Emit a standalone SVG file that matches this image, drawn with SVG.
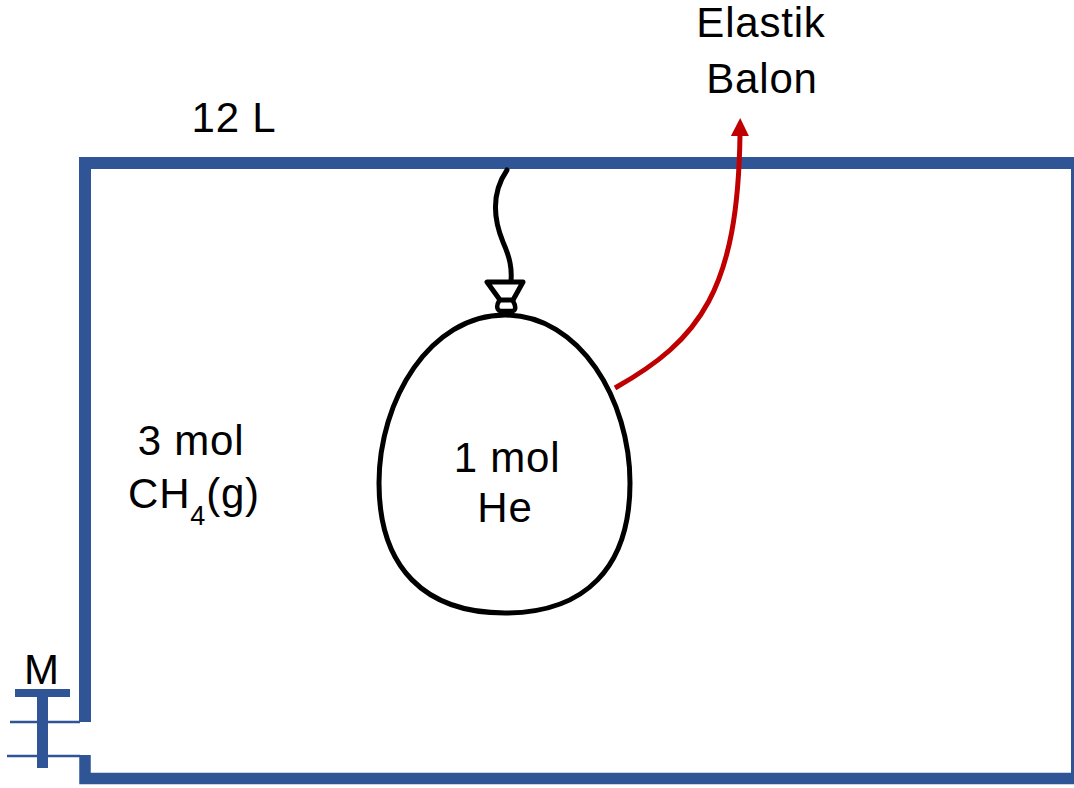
<svg xmlns="http://www.w3.org/2000/svg" width="1074" height="788" viewBox="0 0 1074 788">
  <style>
    .wall { fill: none; stroke: #2F5597; stroke-width: 12; stroke-linejoin: miter; stroke-linecap: butt; }
    .pipe { fill: none; stroke: #2F5597; stroke-width: 2.4; }
    .ink { fill: none; stroke: #000; stroke-linecap: round; stroke-linejoin: round; }
    .lbl { font-family: "Liberation Sans", Arial, sans-serif; font-size: 42px; letter-spacing: 0.8px; fill: #000; text-anchor: middle; }
  </style>
  <defs>
    <marker id="redHead" markerUnits="userSpaceOnUse" viewBox="0 0 18 18" markerWidth="18" markerHeight="18" refX="2" refY="9" orient="auto">
      <path d="M0,0 L18,9 L0,18 z" fill="#C00000"/>
    </marker>
  </defs>

  <rect width="1074" height="788" fill="#fff"/>

  <!-- container walls -->
  <g id="container">
    <path class="wall" d="M85,722 V163 H1083"/>
    <path class="wall" d="M1077,157 V784"/>
    <path class="wall" d="M85,755 V778.5 H1083" style="stroke-width:11.5"/>
  </g>

  <!-- valve M -->
  <g id="valve">
    <line class="pipe" x1="10" y1="722" x2="80" y2="722"/>
    <line class="pipe" x1="7" y1="756" x2="80" y2="756"/>
    <rect x="15" y="689" width="55" height="8" fill="#2F5597"/>
    <rect x="37" y="697" width="11" height="71" fill="#2F5597"/>
    <text class="lbl" x="42" y="684">M</text>
  </g>

  <!-- balloon with string and knot -->
  <g id="balloon">
    <path class="ink" stroke-width="5" d="M507,170 C490,195 494,220 503,242 C510,258 512,268 511,281"/>
    <path class="ink" stroke-width="5" d="M487,282 L523,282 L513,300 L500,300 Z"/>
    <path class="ink" stroke-width="4.5" d="M499,301 C496,306 497,310 500,311 L513,311 C516,310 516,306 513,301"/>
    <path class="ink" stroke-width="5" d="M505,315 C580,315 630,400 630,483 C630,568 585,613 505,613 C425,613 379,568 379,483 C379,400 430,315 505,315 Z"/>
    <text class="lbl" x="507" y="472">1 mol</text>
    <text class="lbl" x="505" y="522">He</text>
  </g>

  <!-- labels -->
  <g id="volume">
    <text class="lbl" x="234" y="132">12 L</text>
  </g>
  <g id="gas">
    <text class="lbl" x="191" y="455">3 mol</text>
    <text class="lbl" x="194" y="508">CH<tspan font-size="27" dy="17">4</tspan><tspan dy="-17">(g)</tspan></text>
  </g>
  <g id="callout">
    <text class="lbl" x="761" y="37">Elastik</text>
    <text class="lbl" x="762" y="93">Balon</text>
  </g>

  <!-- connectors -->
  <g id="connectors">
    <path d="M615,388 C700,340 738,290 740,134" fill="none" stroke="#C00000" stroke-width="5" marker-end="url(#redHead)"/>
  </g>
</svg>
